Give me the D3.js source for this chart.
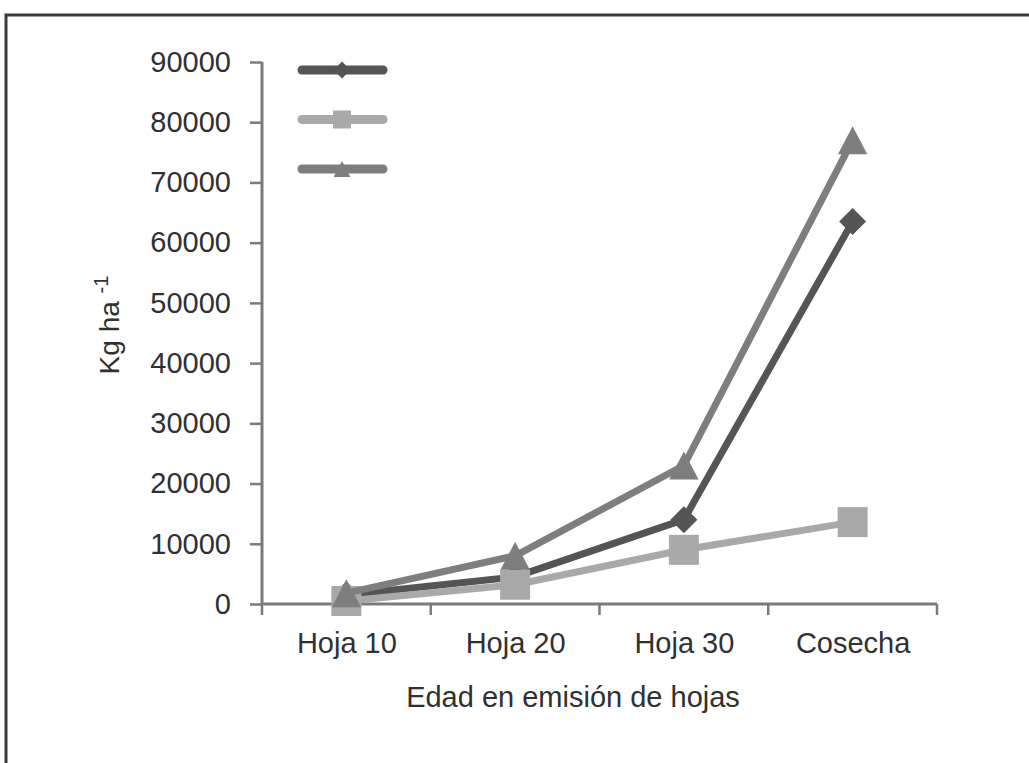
<!DOCTYPE html>
<html>
<head>
<meta charset="utf-8">
<script src="https://cdn.jsdelivr.net/npm/d3@7/dist/d3.min.js"></script>
<style>
  html, body { margin: 0; padding: 0; background: #fff; }
  svg { display: block; font-family: "Liberation Sans", Arial, Helvetica, sans-serif; }
</style>
</head>
<body>
<svg id="chart" width="1029" height="763"></svg>
<script>
// Growth stages along the x axis
const categories = ["Hoja 10", "Hoja 20", "Hoja 30", "Cosecha"];

// Biomass (kg/ha) per series
const seriesDiamond  = [1500, 4500, 14000, 63500];
const seriesSquare   = [500, 3200, 9000, 13600];
const seriesTriangle = [1800, 8000, 23000, 77000];

// Y axis tick values
const yTicks = [0, 10000, 20000, 30000, 40000, 50000, 60000, 70000, 80000, 90000];

const series = [
  { key: "diamond",  values: seriesDiamond,  color: "#555555", symbol: "diamond" },
  { key: "square",   values: seriesSquare,   color: "#a9a9a9", symbol: "square" },
  { key: "triangle", values: seriesTriangle, color: "#7e7e7e", symbol: "triangle" }
];

const svg = d3.select("#chart");
const textColor = "#303030";
const axisColor = "#7a7a7a";
const fontSize = "29px";

// Outer frame (top and left edges)
svg.append("path")
  .attr("d", "M6,763 L6,15 L1029,15")
  .attr("fill", "none")
  .attr("stroke", "#3a3a3a")
  .attr("stroke-width", 3);

const plot = { left: 262, right: 937, top: 62, bottom: 604 };

const x = d3.scalePoint().domain(categories).range([plot.left, plot.right]).padding(0.5);
const band = d3.scaleBand().domain(categories).range([plot.left, plot.right]);
const y = d3.scaleLinear().domain([0, 90000]).range([plot.bottom, plot.top]);

// Y axis
const yAxis = svg.append("g")
  .attr("transform", `translate(${plot.left},0)`)
  .call(d3.axisLeft(y).tickValues(yTicks).tickFormat(d3.format("d")).tickSize(12).tickPadding(19));
yAxis.select(".domain").attr("stroke", axisColor).attr("stroke-width", 3)
  .attr("d", `M0,${plot.top}H0V${plot.bottom}`);
yAxis.selectAll(".tick line").attr("stroke", axisColor).attr("stroke-width", 2.5);
yAxis.selectAll(".tick text")
  .attr("fill", textColor)
  .style("font-size", fontSize)
  .style("font-family", "'Liberation Sans', Arial, sans-serif");

// X axis: labels at category centres, tick marks at category boundaries
const xAxis = svg.append("g")
  .attr("transform", `translate(0,${plot.bottom})`)
  .call(d3.axisBottom(x).tickSize(0).tickPadding(28));
xAxis.select(".domain").attr("stroke", axisColor).attr("stroke-width", 3)
  .attr("d", `M${plot.left},0H${plot.right}`);
xAxis.selectAll(".tick text")
  .attr("fill", textColor)
  .style("font-size", fontSize)
  .style("font-family", "'Liberation Sans', Arial, sans-serif");

const boundaries = categories.map(c => band(c)).concat([band.range()[1]]);
svg.append("g")
  .selectAll("line")
  .data(boundaries)
  .join("line")
  .attr("x1", d => d).attr("x2", d => d)
  .attr("y1", plot.bottom).attr("y2", plot.bottom + 11)
  .attr("stroke", axisColor)
  .attr("stroke-width", 2.5);

// Axis titles
svg.append("text")
  .attr("x", 573)
  .attr("y", 707)
  .attr("text-anchor", "middle")
  .attr("fill", textColor)
  .style("font-size", fontSize)
  .text("Edad en emisión de hojas");

const yTitle = svg.append("text")
  .attr("transform", "translate(119,325) rotate(-90)")
  .attr("text-anchor", "middle")
  .attr("fill", textColor)
  .style("font-size", "28px");
yTitle.append("tspan").text("Kg ha ");
yTitle.append("tspan").attr("dy", -11).style("font-size", "20px").text(" -1");

// Marker shapes
function markerPath(kind, size) {
  if (kind === "diamond") {
    const h = size / 2;
    return `M0,${-h}L${h},0L0,${h}L${-h},0Z`;
  }
  if (kind === "square") {
    const h = size / 2;
    return `M${-h},${-h}H${h}V${h}H${-h}Z`;
  }
  // triangle pointing up, centred on its bounding box
  const h = size / 2;
  return `M0,${-h}L${h * 1.05},${h}L${-h * 1.05},${h}Z`;
}
const markerSize = { diamond: 27, square: 30, triangle: 28 };

const line = d3.line()
  .x((d, i) => x(categories[i]))
  .y(d => y(d));

series.forEach(s => {
  const g = svg.append("g");
  g.append("path")
    .datum(s.values)
    .attr("d", line)
    .attr("fill", "none")
    .attr("stroke", s.color)
    .attr("stroke-width", 7)
    .attr("stroke-linejoin", "round")
    .attr("stroke-linecap", "round");
  g.selectAll("path.mk")
    .data(s.values)
    .join("path")
    .attr("class", "mk")
    .attr("transform", (d, i) => `translate(${x(categories[i])},${y(d)})`)
    .attr("d", markerPath(s.symbol, markerSize[s.symbol]))
    .attr("fill", s.color);
});

// Legend (line + marker swatches)
const legend = svg.append("g");
const legendSize = { diamond: 17, square: 18, triangle: 16 };
series.forEach((s, i) => {
  const ly = 70 + i * 49.5;
  legend.append("line")
    .attr("x1", 302).attr("x2", 383)
    .attr("y1", ly).attr("y2", ly)
    .attr("stroke", s.color)
    .attr("stroke-width", 9)
    .attr("stroke-linecap", "round");
  legend.append("path")
    .attr("transform", `translate(342,${ly})`)
    .attr("d", markerPath(s.symbol, legendSize[s.symbol]))
    .attr("fill", s.color);
});
</script>
</body>
</html>
